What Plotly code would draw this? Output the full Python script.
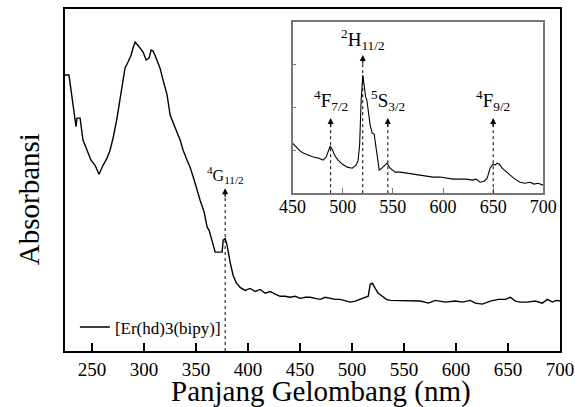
import plotly.graph_objects as go

# Full-range absorption spectrum of [Er(hd)3(bipy)] (arbitrary absorbance units)
wl_main = [224, 227.8, 229.8, 231.7, 234.6, 235.5, 236.5, 238.5, 241.3, 245.2, 249, 252.9, 256.7,
           260.6, 264.4, 267.3, 270.2, 274, 276.9, 279.8, 281.7, 284.6, 287.5, 289.4, 291.4,
           293.3, 296.2, 299.1, 302, 304.9, 306.8, 308.7, 311.6, 315.4, 318.3, 322.2, 325.1,
           328, 330.8, 334.7, 337.6, 341.4, 344.3, 348.2, 351, 353.9, 357.8, 360.7, 362.6,
           365.5, 368.4, 375.1, 376.1, 378, 379.9, 382.8, 385.7, 388.6, 392.4, 397.2, 402,
           406.9, 411.7, 416.5, 421.3, 426.1, 430.9, 435.7, 440.5, 445.4, 450.2, 455, 459.8,
           464.6, 469.4, 474.2, 479, 483.8, 488.7, 493.5, 498.3, 503.1, 507.9, 512.7, 515.6,
           517.5, 519.5, 522.3, 525.2, 529.1, 533, 536.8, 546.4, 556, 565.7, 573.4, 580.1,
           589.7, 599.4, 606.1, 613.8, 618.6, 625.3, 633, 640.7, 647.5, 652.3, 657.1, 661.9,
           668.6, 676.3, 683, 687.9, 692.7, 696.5, 700]
abs_main = [0.807, 0.807, 0.763, 0.719, 0.656, 0.681, 0.681, 0.681, 0.617, 0.587, 0.558, 0.543, 0.517,
            0.543, 0.564, 0.587, 0.622, 0.681, 0.733, 0.792, 0.827, 0.845, 0.865, 0.886, 0.903,
            0.897, 0.886, 0.874, 0.851, 0.857, 0.880, 0.877, 0.857, 0.827, 0.792, 0.748, 0.690,
            0.666, 0.646, 0.617, 0.587, 0.558, 0.537, 0.500, 0.470, 0.441, 0.406, 0.362, 0.353,
            0.324, 0.289, 0.289, 0.324, 0.329, 0.309, 0.259, 0.221, 0.200, 0.186, 0.177, 0.183,
            0.174, 0.180, 0.169, 0.174, 0.166, 0.160, 0.160, 0.157, 0.160, 0.154, 0.157, 0.157,
            0.154, 0.151, 0.157, 0.154, 0.151, 0.151, 0.146, 0.143, 0.146, 0.151, 0.157, 0.160,
            0.195, 0.198, 0.183, 0.169, 0.160, 0.151, 0.148, 0.148, 0.148, 0.146, 0.140, 0.148,
            0.143, 0.146, 0.143, 0.148, 0.140, 0.137, 0.146, 0.151, 0.151, 0.157, 0.146, 0.143,
            0.143, 0.146, 0.140, 0.151, 0.143, 0.148, 0.146]

# Expanded visible region (450-700 nm)
wl_zoom = [450, 453.7, 457.7, 460.7, 465.6, 470.6, 475.6, 480.6, 483.6, 485.6, 487.5, 489.5,
           492.5, 495.5, 499.5, 504.5, 509.5, 513.4, 515.4, 516.9, 518.4, 520.1, 521.4, 522.9,
           524.1, 525.4, 527.4, 529.4, 531.4, 532.9, 534.4, 536.4, 539.1, 541.3, 544.3, 547.3,
           552.3, 557.3, 564.2, 570.2, 577.2, 584.2, 590.1, 597.1, 604.1, 610.1, 617.1, 623.1,
           629, 633, 637, 641, 644, 646.9, 649.9, 651.9, 653.9, 655.9, 658.9, 662.9, 666.9,
           671.8, 676.8, 681.8, 686.8, 690.7, 694.7, 699.7]
abs_zoom = [0.292, 0.269, 0.246, 0.234, 0.222, 0.211, 0.205, 0.193, 0.211, 0.251, 0.275, 0.257,
            0.216, 0.193, 0.170, 0.152, 0.146, 0.164, 0.193, 0.281, 0.544, 0.690, 0.614, 0.561,
            0.544, 0.485, 0.398, 0.351, 0.345, 0.281, 0.205, 0.135, 0.146, 0.158, 0.175, 0.146,
            0.123, 0.123, 0.117, 0.111, 0.105, 0.099, 0.094, 0.094, 0.088, 0.082, 0.082, 0.082,
            0.076, 0.082, 0.064, 0.070, 0.088, 0.146, 0.170, 0.164, 0.175, 0.170, 0.146, 0.123,
            0.105, 0.082, 0.064, 0.058, 0.064, 0.053, 0.058, 0.047]

main_ticks = [250, 300, 350, 400, 450, 500, 550, 600, 650, 700]
zoom_ticks = [450, 500, 550, 600, 650, 700]

# Er3+ transitions: (label, wavelength, arrow tip height, label height)
main_bands = [("<sup>4</sup>G<sub>11/2</sub>", 378, 0.476, 0.478)]
zoom_bands = [("<sup>4</sup>F<sub>7/2</sub>", 488, 0.439, 0.45),
              ("<sup>2</sup>H<sub>11/2</sub>", 520, 0.807, 0.81),
              ("<sup>5</sup>S<sub>3/2</sub>", 545, 0.439, 0.45),
              ("<sup>4</sup>F<sub>9/2</sub>", 650, 0.439, 0.45)]

SERIF = "Liberation Serif, Times New Roman, serif"

fig = go.Figure()
fig.add_trace(go.Scatter(x=wl_main, y=abs_main, mode="lines", name="[Er(hd)3(bipy)]",
                         line=dict(color="black", width=1.4), xaxis="x", yaxis="y"))
fig.add_trace(go.Scatter(x=wl_zoom, y=abs_zoom, mode="lines", showlegend=False,
                         line=dict(color="black", width=1.1), xaxis="x2", yaxis="y2"))

shapes = []
annotations = []

def add_band(label, wl, tip, lab_y, xref, yref, size, arrow_len):
    shapes.append(dict(type="line", xref=xref, yref=yref, x0=wl, x1=wl, y0=0, y1=tip - arrow_len * 0.3,
                       line=dict(color="black", width=1, dash="dot"), layer="above"))
    annotations.append(dict(x=wl, y=tip, ax=wl, ay=tip - arrow_len, xref=xref, yref=yref,
                            axref=xref, ayref=yref, text="", showarrow=True, arrowhead=2,
                            arrowsize=1.0, arrowwidth=1.2, arrowcolor="black"))
    annotations.append(dict(x=wl, y=lab_y, xref=xref, yref=yref, text=label, showarrow=False,
                            xanchor="center", yanchor="bottom",
                            font=dict(family=SERIF, size=size, color="black")))

for lab, wl, tip, ly in main_bands:
    add_band(lab, wl, tip, ly, "x", "y", 16, 0.03)
for lab, wl, tip, ly in zoom_bands:
    add_band(lab, wl, tip, ly, "x2", "y2", 19, 0.06)

annotations.append(dict(x=0.518, y=-0.118, xref="paper", yref="paper", text="Panjang Gelombang (nm)",
                        showarrow=False, xanchor="center", yanchor="middle",
                        font=dict(family=SERIF, size=29, color="black")))
annotations.append(dict(x=-0.074, y=0.445, xref="paper", yref="paper", text="Absorbansi",
                        showarrow=False, textangle=-90, xanchor="center", yanchor="middle",
                        font=dict(family=SERIF, size=29, color="black")))

fig.update_layout(
    width=575, height=407,
    margin=dict(l=65, r=15, t=9, b=56, autoexpand=False),
    paper_bgcolor="white", plot_bgcolor="white",
    font=dict(family=SERIF, color="black"),
    showlegend=True,
    legend=dict(x=0.02, y=0.069, xanchor="left", yanchor="middle", bgcolor="rgba(0,0,0,0)",
                font=dict(family=SERIF, size=17, color="black"), itemwidth=30),
    xaxis=dict(range=[224, 700], tickvals=main_ticks, ticks="inside", ticklen=8, tickwidth=1.5,
               tickcolor="black", showline=True, linecolor="black", linewidth=2, mirror=True,
               showgrid=False, zeroline=False, tickfont=dict(family=SERIF, size=19),
               ticklabelstandoff=0, automargin=False),
    yaxis=dict(range=[0, 1], showticklabels=False, ticks="", showline=True, linecolor="black",
               linewidth=2, mirror=True, showgrid=False, zeroline=False, automargin=False),
    xaxis2=dict(domain=[0.4596, 0.9664], anchor="y2", range=[450, 700], tickvals=zoom_ticks,
                ticks="inside", ticklen=5, tickwidth=1, tickcolor="#777", showline=True,
                linecolor="#777", linewidth=1.5, mirror=True, showgrid=False, zeroline=False,
                tickfont=dict(family=SERIF, size=18), ticklabelstandoff=-4, automargin=False),
    yaxis2=dict(domain=[0.4615, 0.962], anchor="x2", range=[0, 1], showticklabels=False,
                ticks="inside", ticklen=4, tickcolor="#777", dtick=0.25, showline=True,
                linecolor="#777", linewidth=1.5, mirror=True, showgrid=False, zeroline=False,
                automargin=False),
    shapes=shapes,
    annotations=annotations,
)

fig.write_html("out.html")
